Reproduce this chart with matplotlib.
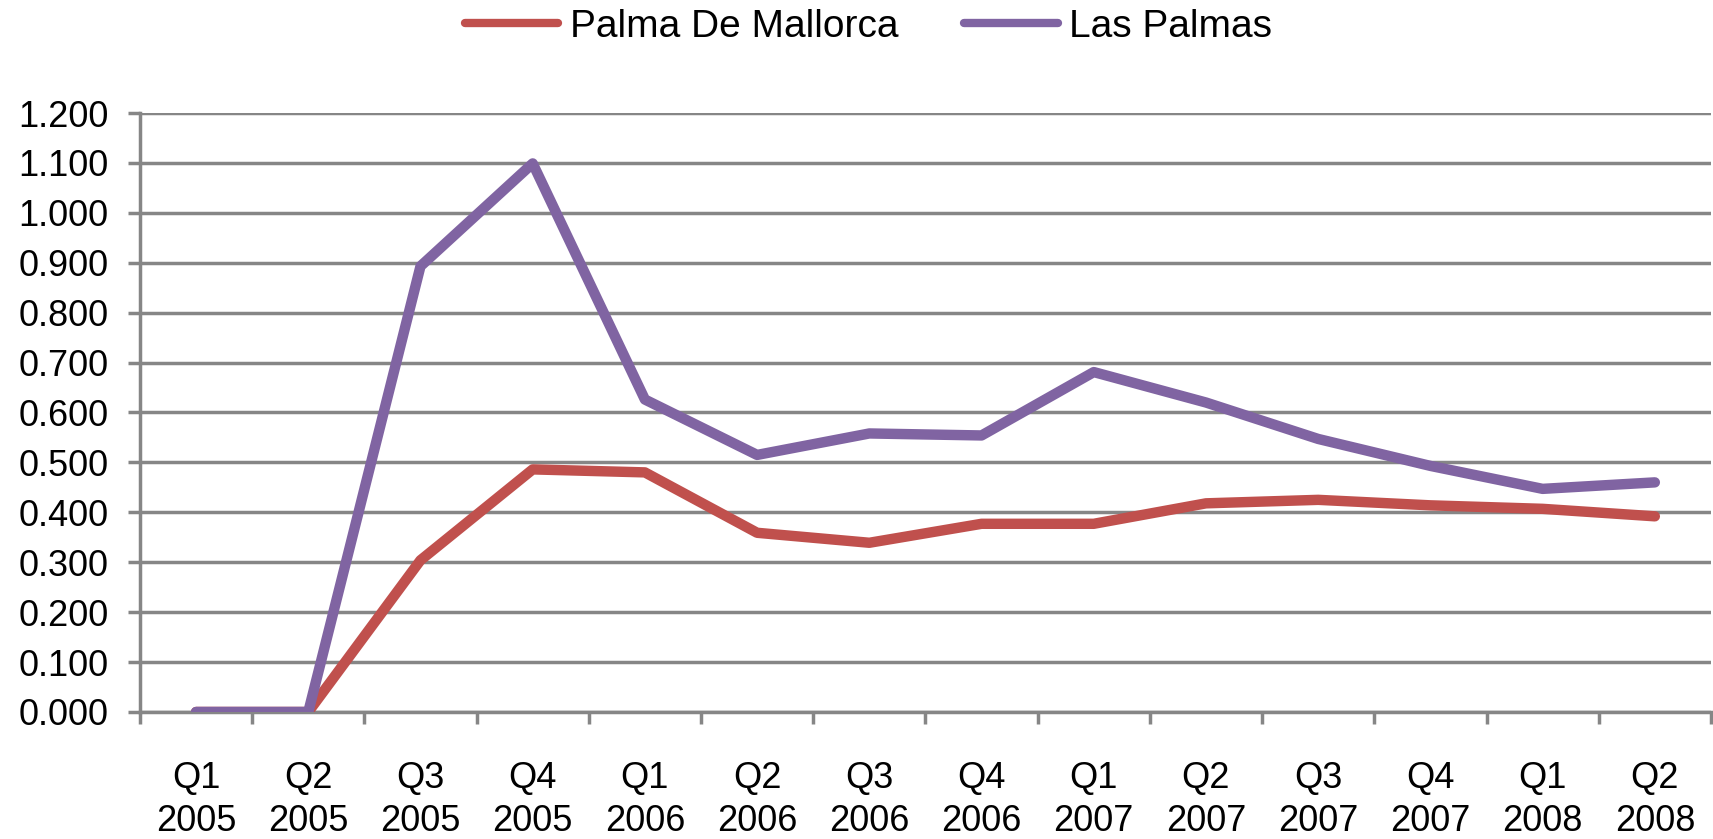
import matplotlib
matplotlib.use("Agg")
from matplotlib import pyplot as plt
from matplotlib.ticker import FixedLocator, FuncFormatter

plt.rcParams['font.family'] = ['Liberation Sans', 'DejaVu Sans']

quarters = ["Q1\n2005", "Q2\n2005", "Q3\n2005", "Q4\n2005",
            "Q1\n2006", "Q2\n2006", "Q3\n2006", "Q4\n2006",
            "Q1\n2007", "Q2\n2007", "Q3\n2007", "Q4\n2007",
            "Q1\n2008", "Q2\n2008"]
palma = [0.0, 0.0, 0.304, 0.486, 0.480, 0.359, 0.339, 0.377,
         0.377, 0.418, 0.425, 0.414, 0.407, 0.392]
las_palmas = [0.0, 0.0, 0.893, 1.099, 0.626, 0.515, 0.558, 0.554,
              0.681, 0.620, 0.547, 0.493, 0.447, 0.460]
y_ticks = [i / 10 for i in range(13)]

grid_col = "#868686"

fig = plt.figure(figsize=(17.13, 8.39), dpi=100)
ax = fig.add_axes([0.0817, 0.1514, 0.9171, 0.7139])

x = list(range(len(quarters)))
ax.plot(x, palma, color="#C0504D", lw=7.5, solid_capstyle="round",
        solid_joinstyle="round", label="Palma De Mallorca", zorder=3)
ax.plot(x, las_palmas, color="#8064A2", lw=7.5, solid_capstyle="round",
        solid_joinstyle="round", label="Las Palmas", zorder=4)

ax.set_xlim(-0.5, len(quarters) - 0.5)
ax.set_ylim(0, 1.2)

# x axis: labels at category centres, tick marks between categories
ax.set_xticks(x)
ax.set_xticklabels(quarters, fontsize=26, linespacing=1.3)
ax.xaxis.set_minor_locator(FixedLocator([i - 0.5 for i in range(len(quarters) + 1)]))
ax.tick_params(axis="x", which="major", length=0, pad=35)
ax.tick_params(axis="x", which="minor", length=8.5, width=2.5, color=grid_col)

ax.set_yticks(y_ticks)
ax.yaxis.set_major_formatter(FuncFormatter(lambda v, p: f"{v:.3f}"))
ax.tick_params(axis="y", length=8.5, width=2.5, color=grid_col, labelsize=26, pad=14)

ax.grid(axis="y", color=grid_col, lw=2.5)
ax.set_axisbelow(True)
for s in ["top", "right"]:
    ax.spines[s].set_visible(False)
for s in ["left", "bottom"]:
    ax.spines[s].set_color(grid_col)
    ax.spines[s].set_linewidth(2.5)

leg = fig.legend(loc="center", bbox_to_anchor=(0.507, 0.968), ncol=2, frameon=False,
                 fontsize=28, handlelength=2.4, handletextpad=0.3, columnspacing=1.7)
for h in leg.get_lines():
    h.set_linewidth(6)

fig.savefig("out.png", dpi=100)
